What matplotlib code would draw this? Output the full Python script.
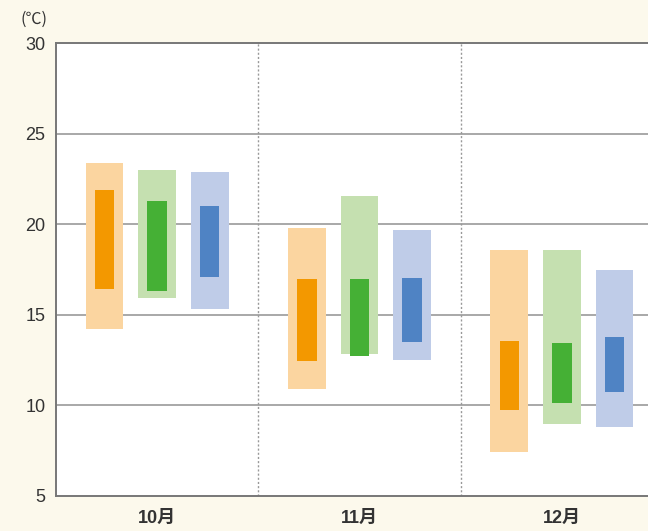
import matplotlib
matplotlib.use("Agg")
import matplotlib.pyplot as plt
import numpy as np

months = ["10月", "11月", "12月"]
series = ["orange", "green", "blue"]
# outer (light) range: low, high
outer_low = {"orange": [14.2, 10.9, 7.45], "green": [15.9, 12.85, 8.95], "blue": [15.3, 12.5, 8.8]}
outer_high = {"orange": [23.4, 19.8, 18.6], "green": [23.0, 21.55, 18.6], "blue": [22.9, 19.7, 17.5]}
# inner (dark) range
inner_low = {"orange": [16.4, 12.45, 9.75], "green": [16.3, 12.75, 10.15], "blue": [17.1, 13.5, 10.75]}
inner_high = {"orange": [21.9, 17.0, 13.55], "green": [21.3, 17.0, 13.45], "blue": [21.0, 17.05, 13.8]}
yticks = [5, 10, 15, 20, 25, 30]

light = {"orange": "#FBD5A0", "green": "#C5E0B0", "blue": "#BFCCE8"}
dark = {"orange": "#F39800", "green": "#45B035", "blue": "#4F83C4"}
bg = "#FCF9EC"
fam = ["Liberation Sans", "Noto Sans CJK JP", "DejaVu Sans"]

fig = plt.figure(figsize=(6.48, 5.31), dpi=100, facecolor=bg)
W, H = 648, 531
left, right, top, bottom = 56, 663, 43, 496
ax = fig.add_axes([left / W, 1 - bottom / H, (right - left) / W, (bottom - top) / H])
ax.set_facecolor("white")

offsets = [-0.26, 0.0, 0.26]
x = np.arange(len(months)) + 0.5
for s, off in zip(series, offsets):
    lo = np.array(outer_low[s]); hi = np.array(outer_high[s])
    ax.bar(x + off, hi - lo, bottom=lo, width=0.187, color=light[s], zorder=2)
    lo2 = np.array(inner_low[s]); hi2 = np.array(inner_high[s])
    ax.bar(x + off, hi2 - lo2, bottom=lo2, width=0.096, color=dark[s], zorder=3)

ax.set_xlim(0, 3)
ax.set_ylim(5, 30)
for yv in yticks[1:-1]:
    ax.axhline(yv, color="#999999", lw=1.2, zorder=1)
for xv in [1, 2]:
    ax.axvline(xv, color="#999999", lw=1.0, ls=(0, (1.5, 1.5)), zorder=1)

for sp in ["left", "bottom", "top"]:
    ax.spines[sp].set_color("#777777")
    ax.spines[sp].set_linewidth(1.4)
ax.spines["right"].set_visible(False)

ax.set_yticks(yticks)
ax.set_yticklabels([str(v) for v in yticks], family=fam, fontsize=13, color="#333333")
ax.set_xticks(x)
ax.set_xticklabels(months, family=fam, fontsize=13, fontweight="bold", color="#333333")
ax.tick_params(axis="x", length=0, pad=10)
ax.tick_params(axis="y", length=0, pad=7.5)

fig.text(33.5 / W, 1 - 19.5 / H, "(℃)", family=["Noto Sans CJK JP", "DejaVu Sans"], fontsize=11.5,
         color="#333333", ha="center", va="center")

fig.savefig("out.png", dpi=100, facecolor=bg)
